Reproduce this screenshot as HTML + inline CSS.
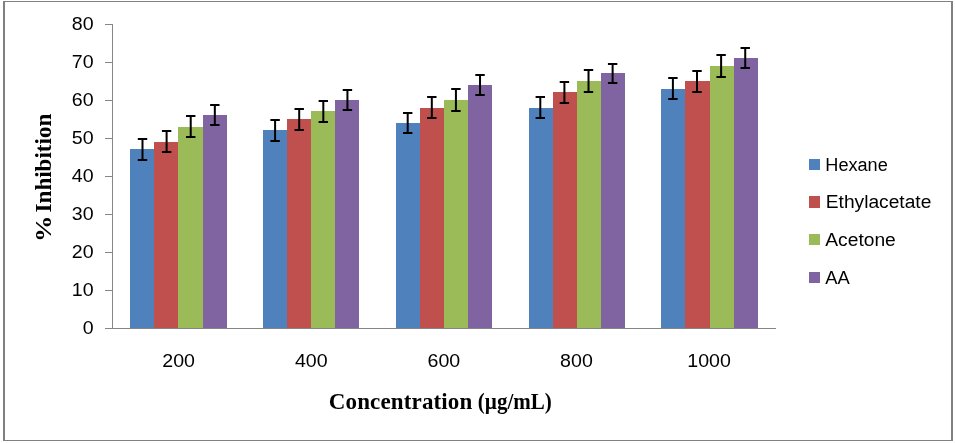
<!DOCTYPE html>
<html><head><meta charset="utf-8"><title>Chart</title>
<style>
html,body{margin:0;padding:0;background:#fff;}
svg{display:block}
.s text{font-family:"Liberation Sans","DejaVu Sans",sans-serif;font-size:18.5px;fill:#000}
.t{font-family:"Liberation Serif","DejaVu Serif",serif;font-weight:bold;fill:#000}
</style></head><body>
<svg width="955" height="443" viewBox="0 0 955 443">
<rect x="0" y="0" width="955" height="443" fill="#fff"/>
<g shape-rendering="crispEdges" fill="#808080">
<rect x="3" y="1" width="950" height="1"/>
<rect x="3" y="440" width="950" height="1"/>
<rect x="3" y="1" width="2" height="440"/>
<rect x="951" y="1" width="2" height="440"/>
</g>
<g shape-rendering="crispEdges">
<rect x="130" y="149" width="24" height="179" fill="#4F81BD"/>
<rect x="154" y="142" width="24" height="186" fill="#C0504D"/>
<rect x="178" y="127" width="25" height="201" fill="#9BBB59"/>
<rect x="203" y="115" width="24" height="213" fill="#8064A2"/>
<rect x="263" y="130" width="24" height="198" fill="#4F81BD"/>
<rect x="287" y="119" width="24" height="209" fill="#C0504D"/>
<rect x="311" y="111" width="24" height="217" fill="#9BBB59"/>
<rect x="335" y="100" width="24" height="228" fill="#8064A2"/>
<rect x="396" y="123" width="24" height="205" fill="#4F81BD"/>
<rect x="420" y="108" width="24" height="220" fill="#C0504D"/>
<rect x="444" y="100" width="24" height="228" fill="#9BBB59"/>
<rect x="468" y="85" width="24" height="243" fill="#8064A2"/>
<rect x="529" y="108" width="24" height="220" fill="#4F81BD"/>
<rect x="553" y="92" width="24" height="236" fill="#C0504D"/>
<rect x="577" y="81" width="24" height="247" fill="#9BBB59"/>
<rect x="601" y="73" width="24" height="255" fill="#8064A2"/>
<rect x="661" y="89" width="24" height="239" fill="#4F81BD"/>
<rect x="685" y="81" width="25" height="247" fill="#C0504D"/>
<rect x="710" y="66" width="24" height="262" fill="#9BBB59"/>
<rect x="734" y="58" width="24" height="270" fill="#8064A2"/>
</g>
<g stroke="#000" stroke-width="2" fill="none">
<path d="M137.80 139H147.20M137.80 160H147.20M142.50 139V160"/>
<path d="M161.91 131H171.31M161.91 152H171.31M166.61 131V152"/>
<path d="M186.02 116H195.42M186.02 137H195.42M190.72 116V137"/>
<path d="M210.13 105H219.53M210.13 125H219.53M214.83 105V125"/>
<path d="M270.40 120H279.80M270.40 141H279.80M275.10 120V141"/>
<path d="M294.51 109H303.91M294.51 130H303.91M299.21 109V130"/>
<path d="M318.62 101H328.02M318.62 122H328.02M323.32 101V122"/>
<path d="M342.73 90H352.13M342.73 110H352.13M347.43 90V110"/>
<path d="M403.00 113H412.40M403.00 133H412.40M407.70 113V133"/>
<path d="M427.11 97H436.51M427.11 118H436.51M431.81 97V118"/>
<path d="M451.22 89H460.62M451.22 111H460.62M455.92 89V111"/>
<path d="M475.33 75H484.73M475.33 95H484.73M480.03 75V95"/>
<path d="M535.60 97H545.00M535.60 118H545.00M540.30 97V118"/>
<path d="M559.71 82H569.11M559.71 103H569.11M564.41 82V103"/>
<path d="M583.82 70H593.22M583.82 92H593.22M588.52 70V92"/>
<path d="M607.93 64H617.33M607.93 83H617.33M612.63 64V83"/>
<path d="M668.20 78H677.60M668.20 99H677.60M672.90 78V99"/>
<path d="M692.31 71H701.71M692.31 92H701.71M697.01 71V92"/>
<path d="M716.42 55H725.82M716.42 77H725.82M721.12 55V77"/>
<path d="M740.53 48H749.93M740.53 68H749.93M745.23 48V68"/>
</g>
<path d="M112.5 24V328.5M105 328.5H776M105 328.5H112M105 290.5H112M105 252.5H112M105 214.5H112M105 176.5H112M105 138.5H112M105 100.5H112M105 62.5H112M105 24.5H112" stroke="#868686" stroke-width="1" fill="none" shape-rendering="crispEdges"/>
<g class="s">
<text x="82.7" y="334" textLength="10.9" lengthAdjust="spacingAndGlyphs">0</text>
<text x="71.8" y="296" textLength="21.8" lengthAdjust="spacingAndGlyphs">10</text>
<text x="71.8" y="258" textLength="21.8" lengthAdjust="spacingAndGlyphs">20</text>
<text x="71.8" y="220" textLength="21.8" lengthAdjust="spacingAndGlyphs">30</text>
<text x="71.8" y="182" textLength="21.8" lengthAdjust="spacingAndGlyphs">40</text>
<text x="71.8" y="144" textLength="21.8" lengthAdjust="spacingAndGlyphs">50</text>
<text x="71.8" y="106" textLength="21.8" lengthAdjust="spacingAndGlyphs">60</text>
<text x="71.8" y="68" textLength="21.8" lengthAdjust="spacingAndGlyphs">70</text>
<text x="71.8" y="30" textLength="21.8" lengthAdjust="spacingAndGlyphs">80</text>
<text x="162.3" y="367" textLength="32.7" lengthAdjust="spacingAndGlyphs">200</text>
<text x="294.9" y="367" textLength="32.7" lengthAdjust="spacingAndGlyphs">400</text>
<text x="427.5" y="367" textLength="32.7" lengthAdjust="spacingAndGlyphs">600</text>
<text x="560.1" y="367" textLength="32.7" lengthAdjust="spacingAndGlyphs">800</text>
<text x="687.3" y="367" textLength="43.6" lengthAdjust="spacingAndGlyphs">1000</text>
<rect x="809" y="159" width="11" height="11" fill="#4F81BD" shape-rendering="crispEdges"/>
<text x="825.3" y="171" style="font-size:18px" textLength="62.5" lengthAdjust="spacingAndGlyphs">Hexane</text>
<rect x="809" y="196" width="11" height="12" fill="#C0504D" shape-rendering="crispEdges"/>
<text x="825.8" y="208" style="font-size:18px" textLength="105.5" lengthAdjust="spacingAndGlyphs">Ethylacetate</text>
<rect x="809" y="234" width="11" height="11" fill="#9BBB59" shape-rendering="crispEdges"/>
<text x="825.3" y="246" style="font-size:18px" textLength="70.5" lengthAdjust="spacingAndGlyphs">Acetone</text>
<rect x="809" y="272" width="11" height="11" fill="#8064A2" shape-rendering="crispEdges"/>
<text x="825.3" y="284" style="font-size:18px" textLength="24.5" lengthAdjust="spacingAndGlyphs">AA</text>
</g>
<text class="t" y="409" font-size="23"><tspan x="328.8" textLength="143.5" lengthAdjust="spacing">Concentration</tspan><tspan> </tspan><tspan x="477.8" textLength="74" lengthAdjust="spacingAndGlyphs">(µg/mL)</tspan></text>
<text class="t" transform="translate(51.2 0) rotate(-90)" font-size="23"><tspan x="-241.9" textLength="26.5" lengthAdjust="spacingAndGlyphs">%</tspan><tspan> </tspan><tspan x="-212.4" textLength="98.6" lengthAdjust="spacing">Inhibition</tspan></text>
</svg>
</body></html>
